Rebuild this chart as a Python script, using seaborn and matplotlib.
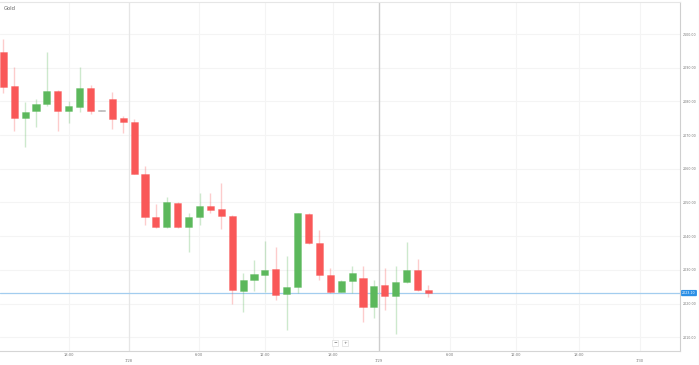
import matplotlib
matplotlib.use("Agg")
import matplotlib.pyplot as plt
import matplotlib.transforms as mtransforms
import numpy as np
import pandas as pd
import seaborn as sns

title = "Gold"
opens  = [2094.7, 2084.6, 2075.0, 2077.2, 2079.3, 2083.1, 2077.2, 2078.4, 2084.1, 2077.2,
          2080.6, 2075.0, 2073.8, 2058.4, 2045.8, 2042.6, 2049.8, 2042.6, 2045.6, 2048.8,
          2048.0, 2046.1, 2023.8, 2027.1, 2028.6, 2030.2, 2022.8, 2025.0, 2046.6, 2038.1,
          2028.6, 2023.5, 2026.8, 2027.7, 2018.9, 2025.4, 2022.3, 2026.4, 2029.8, 2024.0]
highs  = [2098.4, 2090.3, 2079.9, 2080.6, 2094.7, 2083.3, 2080.1, 2090.1, 2084.9, 2077.3,
          2082.9, 2075.8, 2074.8, 2060.8, 2049.6, 2051.7, 2050.2, 2047.0, 2052.9, 2052.9,
          2055.9, 2046.3, 2029.0, 2032.9, 2038.6, 2036.7, 2034.1, 2047.0, 2047.0, 2041.8,
          2030.5, 2027.0, 2031.2, 2031.0, 2027.0, 2030.5, 2031.2, 2038.4, 2033.1, 2025.5]
lows   = [2082.4, 2071.3, 2066.4, 2072.5, 2078.6, 2071.3, 2073.7, 2076.9, 2076.2, 2077.1,
          2071.7, 2070.7, 2058.4, 2043.3, 2042.3, 2042.3, 2042.3, 2035.3, 2043.3, 2046.8,
          2042.1, 2019.9, 2017.6, 2023.8, 2023.5, 2020.9, 2012.2, 2023.1, 2037.8, 2027.0,
          2023.1, 2023.4, 2023.2, 2014.5, 2015.6, 2018.1, 2011.0, 2026.0, 2023.8, 2022.0]
closes = [2084.4, 2075.0, 2076.8, 2079.2, 2083.1, 2077.2, 2078.6, 2084.1, 2077.2, 2077.2,
          2074.7, 2074.0, 2058.5, 2045.6, 2042.6, 2050.1, 2042.6, 2045.8, 2049.0, 2047.8,
          2046.1, 2024.0, 2027.0, 2028.7, 2030.0, 2022.6, 2024.9, 2046.8, 2037.9, 2028.4,
          2023.5, 2026.8, 2029.0, 2018.9, 2025.3, 2022.3, 2026.4, 2030.0, 2024.0, 2023.1]

y_ticks = [2010, 2020, 2030, 2040, 2050, 2060, 2070, 2080, 2090, 2100]
time_tick_pos = [6.03, 17.95, 24.0, 30.25, 41.0, 47.0, 52.8]
time_tick_labels = ["18:00", "6:00", "12:00", "18:00", "6:00", "12:00", "18:00"]
date_tick_pos = [11.53, 34.47, 58.4]
date_tick_labels = ["7/28", "7/29", "7/30"]

df = pd.DataFrame({"i": np.arange(len(opens)), "open": opens, "high": highs,
                   "low": lows, "close": closes})

sns.set_theme(style="white")
plt.rcParams["font.family"] = ["DejaVu Sans"]

RED = "#f95858"
GREEN = "#5cb85c"
GREY = "#aaaaaa"

def colour(r):
    if r["close"] > r["open"]:
        return GREEN
    if r["close"] < r["open"]:
        return RED
    return GREY

df["color"] = df.apply(colour, axis=1)

fig = plt.figure(figsize=(6.99, 3.65), dpi=100)
ax = fig.add_axes([0, 14 / 365, 680 / 699, 349 / 365])

# grid
for y in y_ticks:
    ax.axhline(y, color="#f4f4f4", lw=0.8, zorder=0)
for x in time_tick_pos:
    ax.axvline(x, color="#f4f4f4", lw=0.8, zorder=0)
ax.axvline(date_tick_pos[0], color="#e6e6e6", lw=0.9, zorder=0)
ax.axvline(date_tick_pos[1], color="#cdcdcd", lw=1.0, zorder=0)
ax.axvline(date_tick_pos[2], color="#f4f4f4", lw=0.8, zorder=0)

# wicks
ax.vlines(df["i"], df["low"], df["high"], colors=df["color"], lw=1.0, alpha=0.3, zorder=2)
# bodies
body_bottom = np.minimum(df["open"], df["close"])
body_h = np.abs(df["close"] - df["open"]).clip(lower=0.35)
ax.bar(df["i"], body_h, bottom=body_bottom, width=0.65, color=df["color"],
       edgecolor=[c + "66" for c in df["color"]], linewidth=0.6, zorder=3)

last = closes[-1]
ax.axhline(last, color="#a3cdef", lw=0.9, zorder=1)

ax.set_xlim(-0.303, 62.08)
ax.set_ylim(2005.9, 2109.5)

ax.yaxis.tick_right()
ax.set_yticks(y_ticks)
ax.set_yticklabels([f"{v:.2f}" for v in y_ticks])
ax.tick_params(axis="y", length=0, pad=2.2, labelsize=2.3, labelcolor="#777777")
ax.set_xticks([])

ax.spines["left"].set_visible(False)
ax.spines["right"].set_color("#cfcfcf")
ax.spines["bottom"].set_color("#d5d5d5")
ax.spines["top"].set_color("#e6e6e6")
for s in ["right", "bottom", "top"]:
    ax.spines[s].set_linewidth(0.8)

trans = mtransforms.blended_transform_factory(ax.transData, fig.transFigure)
for x, lab in zip(time_tick_pos, time_tick_labels):
    ax.text(x, 1 - 355 / 365, lab, transform=trans, ha="center", va="center",
            fontsize=2.6, color="#777777")
for x, lab in zip(date_tick_pos, date_tick_labels):
    ax.text(x, 1 - 361 / 365, lab, transform=trans, ha="center", va="center",
            fontsize=2.6, color="#777777")

# price label
trans_y = mtransforms.blended_transform_factory(fig.transFigure, ax.transData)
ax.text(689 / 699, last, f"{last:.2f}", transform=trans_y, ha="center", va="center",
        fontsize=2.3, color="white",
        bbox=dict(boxstyle="round,pad=0.35,rounding_size=0.3", fc="#2b8fe6", ec="none"))

# title
fig.text(4 / 699, 1 - 8.5 / 365, title, ha="left", va="center", fontsize=3.8, color="#666666")

# zoom buttons
for xpx, sym in [(335, "−"), (345, "+")]:
    fig.text(xpx / 699, 1 - 343 / 365, sym, ha="center", va="center", fontsize=3.2,
             color="#555555",
             bbox=dict(boxstyle="square,pad=0.3", fc="white", ec="#dddddd", lw=0.5))

# outer right frame line
fig.add_artist(plt.Line2D([698.5 / 699, 698.5 / 699], [0, 1], transform=fig.transFigure,
                          color="#c9d8e6", lw=0.8))

fig.savefig("out.png", dpi=100)
